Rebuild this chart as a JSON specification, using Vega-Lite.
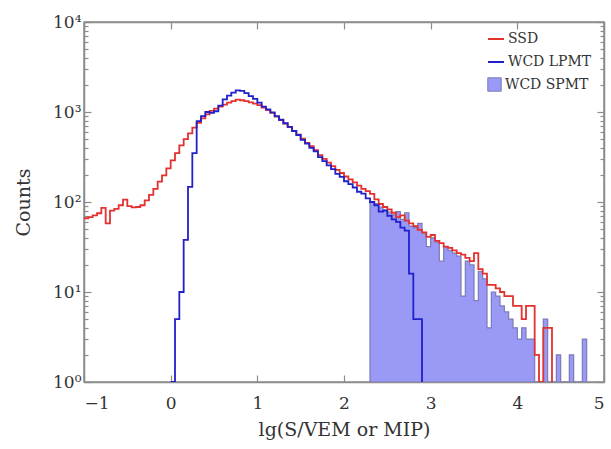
{
  "$schema": "https://vega.github.io/schema/vega-lite/v6.json",
  "width": 520,
  "height": 360,
  "autosize": "none",
  "padding": {"left": 84, "top": 22, "right": 7, "bottom": 67},
  "background": "white",
  "config": {
    "view": {"stroke": "#8c8c8c", "strokeWidth": 1.5},
    "font": "DejaVu Serif",
    "axis": {
      "grid": false,
      "domainColor": "#8c8c8c",
      "domainWidth": 1.5,
      "tickColor": "#8c8c8c",
      "tickWidth": 1.2,
      "labelColor": "#333333",
      "labelFont": "DejaVu Serif",
      "labelFontSize": 17,
      "titleFont": "DejaVu Serif",
      "titleFontSize": 19,
      "titleFontWeight": "normal",
      "titleColor": "#333333"
    },
    "legend": {
      "labelFont": "DejaVu Serif",
      "labelFontSize": 14,
      "labelColor": "#333333",
      "rowPadding": 7,
      "padding": 0,
      "labelOffset": 3
    }
  },
  "data": {
    "values": [
      {"series": "SSD", "edge": -1.00, "count": 66},
      {"series": "SSD", "edge": -0.95, "count": 68},
      {"series": "SSD", "edge": -0.90, "count": 71},
      {"series": "SSD", "edge": -0.85, "count": 75},
      {"series": "SSD", "edge": -0.80, "count": 86},
      {"series": "SSD", "edge": -0.75, "count": 58},
      {"series": "SSD", "edge": -0.70, "count": 80},
      {"series": "SSD", "edge": -0.65, "count": 84},
      {"series": "SSD", "edge": -0.60, "count": 92},
      {"series": "SSD", "edge": -0.55, "count": 106},
      {"series": "SSD", "edge": -0.50, "count": 90},
      {"series": "SSD", "edge": -0.45, "count": 87},
      {"series": "SSD", "edge": -0.40, "count": 88},
      {"series": "SSD", "edge": -0.35, "count": 92},
      {"series": "SSD", "edge": -0.30, "count": 104},
      {"series": "SSD", "edge": -0.25, "count": 120},
      {"series": "SSD", "edge": -0.20, "count": 140},
      {"series": "SSD", "edge": -0.15, "count": 168},
      {"series": "SSD", "edge": -0.10, "count": 198},
      {"series": "SSD", "edge": -0.05, "count": 236},
      {"series": "SSD", "edge": 0.00, "count": 290},
      {"series": "SSD", "edge": 0.05, "count": 350},
      {"series": "SSD", "edge": 0.10, "count": 425},
      {"series": "SSD", "edge": 0.15, "count": 500},
      {"series": "SSD", "edge": 0.20, "count": 580},
      {"series": "SSD", "edge": 0.25, "count": 670},
      {"series": "SSD", "edge": 0.30, "count": 760},
      {"series": "SSD", "edge": 0.35, "count": 850},
      {"series": "SSD", "edge": 0.40, "count": 940},
      {"series": "SSD", "edge": 0.45, "count": 1030},
      {"series": "SSD", "edge": 0.50, "count": 1090},
      {"series": "SSD", "edge": 0.55, "count": 1150},
      {"series": "SSD", "edge": 0.60, "count": 1210},
      {"series": "SSD", "edge": 0.65, "count": 1270},
      {"series": "SSD", "edge": 0.70, "count": 1320},
      {"series": "SSD", "edge": 0.75, "count": 1370},
      {"series": "SSD", "edge": 0.80, "count": 1350},
      {"series": "SSD", "edge": 0.85, "count": 1320},
      {"series": "SSD", "edge": 0.90, "count": 1280},
      {"series": "SSD", "edge": 0.95, "count": 1240},
      {"series": "SSD", "edge": 1.00, "count": 1190},
      {"series": "SSD", "edge": 1.05, "count": 1120},
      {"series": "SSD", "edge": 1.10, "count": 1050},
      {"series": "SSD", "edge": 1.15, "count": 980},
      {"series": "SSD", "edge": 1.20, "count": 890},
      {"series": "SSD", "edge": 1.25, "count": 815},
      {"series": "SSD", "edge": 1.30, "count": 745},
      {"series": "SSD", "edge": 1.35, "count": 680},
      {"series": "SSD", "edge": 1.40, "count": 615},
      {"series": "SSD", "edge": 1.45, "count": 560},
      {"series": "SSD", "edge": 1.50, "count": 505},
      {"series": "SSD", "edge": 1.55, "count": 455},
      {"series": "SSD", "edge": 1.60, "count": 418},
      {"series": "SSD", "edge": 1.65, "count": 378},
      {"series": "SSD", "edge": 1.70, "count": 332},
      {"series": "SSD", "edge": 1.75, "count": 302},
      {"series": "SSD", "edge": 1.80, "count": 274},
      {"series": "SSD", "edge": 1.85, "count": 250},
      {"series": "SSD", "edge": 1.90, "count": 228},
      {"series": "SSD", "edge": 1.95, "count": 210},
      {"series": "SSD", "edge": 2.00, "count": 192},
      {"series": "SSD", "edge": 2.05, "count": 178},
      {"series": "SSD", "edge": 2.10, "count": 165},
      {"series": "SSD", "edge": 2.15, "count": 152},
      {"series": "SSD", "edge": 2.20, "count": 140},
      {"series": "SSD", "edge": 2.25, "count": 132},
      {"series": "SSD", "edge": 2.30, "count": 123},
      {"series": "SSD", "edge": 2.35, "count": 107},
      {"series": "SSD", "edge": 2.40, "count": 95},
      {"series": "SSD", "edge": 2.45, "count": 88},
      {"series": "SSD", "edge": 2.50, "count": 83},
      {"series": "SSD", "edge": 2.55, "count": 76},
      {"series": "SSD", "edge": 2.60, "count": 68},
      {"series": "SSD", "edge": 2.65, "count": 71},
      {"series": "SSD", "edge": 2.70, "count": 62},
      {"series": "SSD", "edge": 2.75, "count": 58},
      {"series": "SSD", "edge": 2.80, "count": 54},
      {"series": "SSD", "edge": 2.85, "count": 49},
      {"series": "SSD", "edge": 2.90, "count": 46},
      {"series": "SSD", "edge": 2.95, "count": 41},
      {"series": "SSD", "edge": 3.00, "count": 43},
      {"series": "SSD", "edge": 3.05, "count": 37},
      {"series": "SSD", "edge": 3.10, "count": 35},
      {"series": "SSD", "edge": 3.15, "count": 32},
      {"series": "SSD", "edge": 3.20, "count": 31},
      {"series": "SSD", "edge": 3.25, "count": 29},
      {"series": "SSD", "edge": 3.30, "count": 27},
      {"series": "SSD", "edge": 3.35, "count": 26},
      {"series": "SSD", "edge": 3.40, "count": 24},
      {"series": "SSD", "edge": 3.45, "count": 22},
      {"series": "SSD", "edge": 3.50, "count": 27},
      {"series": "SSD", "edge": 3.55, "count": 18},
      {"series": "SSD", "edge": 3.60, "count": 16},
      {"series": "SSD", "edge": 3.65, "count": 12},
      {"series": "SSD", "edge": 3.70, "count": 12},
      {"series": "SSD", "edge": 3.75, "count": 11},
      {"series": "SSD", "edge": 3.80, "count": 10},
      {"series": "SSD", "edge": 3.85, "count": 9},
      {"series": "SSD", "edge": 3.90, "count": 9},
      {"series": "SSD", "edge": 3.95, "count": 7},
      {"series": "SSD", "edge": 4.00, "count": 7},
      {"series": "SSD", "edge": 4.05, "count": 5},
      {"series": "SSD", "edge": 4.10, "count": 7},
      {"series": "SSD", "edge": 4.15, "count": 7},
      {"series": "SSD", "edge": 4.20, "count": 2},
      {"series": "SSD", "edge": 4.25, "count": 0},
      {"series": "SSD", "edge": 4.30, "count": 4},
      {"series": "SSD", "edge": 4.35, "count": 4},
      {"series": "SSD", "edge": 4.40, "count": 0},

      {"series": "WCD LPMT", "edge": 0.00, "count": 0},
      {"series": "WCD LPMT", "edge": 0.05, "count": 5},
      {"series": "WCD LPMT", "edge": 0.10, "count": 10},
      {"series": "WCD LPMT", "edge": 0.15, "count": 38},
      {"series": "WCD LPMT", "edge": 0.20, "count": 147},
      {"series": "WCD LPMT", "edge": 0.25, "count": 350},
      {"series": "WCD LPMT", "edge": 0.30, "count": 790},
      {"series": "WCD LPMT", "edge": 0.35, "count": 900},
      {"series": "WCD LPMT", "edge": 0.40, "count": 1000},
      {"series": "WCD LPMT", "edge": 0.45, "count": 980},
      {"series": "WCD LPMT", "edge": 0.50, "count": 1020},
      {"series": "WCD LPMT", "edge": 0.55, "count": 1180},
      {"series": "WCD LPMT", "edge": 0.60, "count": 1380},
      {"series": "WCD LPMT", "edge": 0.65, "count": 1520},
      {"series": "WCD LPMT", "edge": 0.70, "count": 1640},
      {"series": "WCD LPMT", "edge": 0.75, "count": 1740},
      {"series": "WCD LPMT", "edge": 0.80, "count": 1720},
      {"series": "WCD LPMT", "edge": 0.85, "count": 1620},
      {"series": "WCD LPMT", "edge": 0.90, "count": 1500},
      {"series": "WCD LPMT", "edge": 0.95, "count": 1400},
      {"series": "WCD LPMT", "edge": 1.00, "count": 1270},
      {"series": "WCD LPMT", "edge": 1.05, "count": 1150},
      {"series": "WCD LPMT", "edge": 1.10, "count": 1070},
      {"series": "WCD LPMT", "edge": 1.15, "count": 990},
      {"series": "WCD LPMT", "edge": 1.20, "count": 900},
      {"series": "WCD LPMT", "edge": 1.25, "count": 820},
      {"series": "WCD LPMT", "edge": 1.30, "count": 750},
      {"series": "WCD LPMT", "edge": 1.35, "count": 685},
      {"series": "WCD LPMT", "edge": 1.40, "count": 615},
      {"series": "WCD LPMT", "edge": 1.45, "count": 555},
      {"series": "WCD LPMT", "edge": 1.50, "count": 490},
      {"series": "WCD LPMT", "edge": 1.55, "count": 445},
      {"series": "WCD LPMT", "edge": 1.60, "count": 400},
      {"series": "WCD LPMT", "edge": 1.65, "count": 365},
      {"series": "WCD LPMT", "edge": 1.70, "count": 315},
      {"series": "WCD LPMT", "edge": 1.75, "count": 285},
      {"series": "WCD LPMT", "edge": 1.80, "count": 255},
      {"series": "WCD LPMT", "edge": 1.85, "count": 232},
      {"series": "WCD LPMT", "edge": 1.90, "count": 205},
      {"series": "WCD LPMT", "edge": 1.95, "count": 190},
      {"series": "WCD LPMT", "edge": 2.00, "count": 170},
      {"series": "WCD LPMT", "edge": 2.05, "count": 158},
      {"series": "WCD LPMT", "edge": 2.10, "count": 145},
      {"series": "WCD LPMT", "edge": 2.15, "count": 130},
      {"series": "WCD LPMT", "edge": 2.20, "count": 124},
      {"series": "WCD LPMT", "edge": 2.25, "count": 110},
      {"series": "WCD LPMT", "edge": 2.30, "count": 100},
      {"series": "WCD LPMT", "edge": 2.35, "count": 92},
      {"series": "WCD LPMT", "edge": 2.40, "count": 78},
      {"series": "WCD LPMT", "edge": 2.45, "count": 80},
      {"series": "WCD LPMT", "edge": 2.50, "count": 70},
      {"series": "WCD LPMT", "edge": 2.55, "count": 64},
      {"series": "WCD LPMT", "edge": 2.60, "count": 60},
      {"series": "WCD LPMT", "edge": 2.65, "count": 52},
      {"series": "WCD LPMT", "edge": 2.70, "count": 48},
      {"series": "WCD LPMT", "edge": 2.75, "count": 16},
      {"series": "WCD LPMT", "edge": 2.80, "count": 5},
      {"series": "WCD LPMT", "edge": 2.85, "count": 5},
      {"series": "WCD LPMT", "edge": 2.90, "count": 0},

      {"series": "WCD SPMT", "edge": 2.30, "count": 100},
      {"series": "WCD SPMT", "edge": 2.35, "count": 96},
      {"series": "WCD SPMT", "edge": 2.40, "count": 88},
      {"series": "WCD SPMT", "edge": 2.45, "count": 82},
      {"series": "WCD SPMT", "edge": 2.50, "count": 77},
      {"series": "WCD SPMT", "edge": 2.55, "count": 72},
      {"series": "WCD SPMT", "edge": 2.60, "count": 78},
      {"series": "WCD SPMT", "edge": 2.65, "count": 64},
      {"series": "WCD SPMT", "edge": 2.70, "count": 76},
      {"series": "WCD SPMT", "edge": 2.75, "count": 54},
      {"series": "WCD SPMT", "edge": 2.80, "count": 52},
      {"series": "WCD SPMT", "edge": 2.85, "count": 58},
      {"series": "WCD SPMT", "edge": 2.90, "count": 45},
      {"series": "WCD SPMT", "edge": 2.95, "count": 32},
      {"series": "WCD SPMT", "edge": 3.00, "count": 40},
      {"series": "WCD SPMT", "edge": 3.05, "count": 36},
      {"series": "WCD SPMT", "edge": 3.10, "count": 22},
      {"series": "WCD SPMT", "edge": 3.15, "count": 32},
      {"series": "WCD SPMT", "edge": 3.20, "count": 29},
      {"series": "WCD SPMT", "edge": 3.25, "count": 27},
      {"series": "WCD SPMT", "edge": 3.30, "count": 25},
      {"series": "WCD SPMT", "edge": 3.35, "count": 9},
      {"series": "WCD SPMT", "edge": 3.40, "count": 22},
      {"series": "WCD SPMT", "edge": 3.45, "count": 20},
      {"series": "WCD SPMT", "edge": 3.50, "count": 8},
      {"series": "WCD SPMT", "edge": 3.55, "count": 17},
      {"series": "WCD SPMT", "edge": 3.60, "count": 14},
      {"series": "WCD SPMT", "edge": 3.65, "count": 4},
      {"series": "WCD SPMT", "edge": 3.70, "count": 10},
      {"series": "WCD SPMT", "edge": 3.75, "count": 9},
      {"series": "WCD SPMT", "edge": 3.80, "count": 7},
      {"series": "WCD SPMT", "edge": 3.85, "count": 6},
      {"series": "WCD SPMT", "edge": 3.90, "count": 5},
      {"series": "WCD SPMT", "edge": 3.95, "count": 4},
      {"series": "WCD SPMT", "edge": 4.00, "count": 3},
      {"series": "WCD SPMT", "edge": 4.05, "count": 4},
      {"series": "WCD SPMT", "edge": 4.10, "count": 3},
      {"series": "WCD SPMT", "edge": 4.15, "count": 3},
      {"series": "WCD SPMT", "edge": 4.20, "count": 0},
      {"series": "WCD SPMT", "edge": 4.25, "count": 0},
      {"series": "WCD SPMT", "edge": 4.30, "count": 5},
      {"series": "WCD SPMT", "edge": 4.35, "count": 0},
      {"series": "WCD SPMT", "edge": 4.40, "count": 0},
      {"series": "WCD SPMT", "edge": 4.45, "count": 2},
      {"series": "WCD SPMT", "edge": 4.50, "count": 0},
      {"series": "WCD SPMT", "edge": 4.55, "count": 0},
      {"series": "WCD SPMT", "edge": 4.60, "count": 2},
      {"series": "WCD SPMT", "edge": 4.65, "count": 0},
      {"series": "WCD SPMT", "edge": 4.70, "count": 0},
      {"series": "WCD SPMT", "edge": 4.75, "count": 3},
      {"series": "WCD SPMT", "edge": 4.80, "count": 0}
    ]
  },
  "layer": [
    {
      "transform": [{"filter": "datum.series == 'WCD SPMT'"}],
      "mark": {"type": "area", "interpolate": "step-after", "stroke": "#7b7bb8", "strokeWidth": 1.2, "invalid": "show", "clip": true},
      "encoding": {
        "x": {"field": "edge", "type": "quantitative", "scale": {"domain": [-1, 5], "nice": false, "zero": false},
              "axis": {"orient": "bottom", "values": [-1, 0, 1, 2, 3, 4, 5], "tickSize": -7, "labelPadding": 20, "labelExpr": "datum.value < 0 ? '−' + abs(datum.value) : datum.label", "title": "lg(S/VEM or MIP)", "titlePadding": 9}},
        "y": {"field": "count", "type": "quantitative", "scale": {"type": "log", "domain": [1, 10000], "nice": false, "clamp": true},
              "axis": {"orient": "left", "values": [1,2,3,4,5,6,7,8,9,10,20,30,40,50,60,70,80,90,100,200,300,400,500,600,700,800,900,1000,2000,3000,4000,5000,6000,7000,8000,9000,10000],
                       "tickSize": {"condition": {"test": "datum.value == 1 || datum.value == 10 || datum.value == 100 || datum.value == 1000 || datum.value == 10000", "value": -7}, "value": -4},
                       "labelPadding": 10,
                       "labelExpr": "datum.value == 1 ? '10⁰' : datum.value == 10 ? '10¹' : datum.value == 100 ? '10²' : datum.value == 1000 ? '10³' : datum.value == 10000 ? '10⁴' : ''",
                       "title": "Counts", "titlePadding": 19}},
        "y2": {"datum": 1},
        "fill": {"field": "series", "type": "nominal", "scale": {"domain": ["WCD SPMT"], "range": ["#9a9af6"]},
                 "legend": {"title": null, "orient": "none", "legendX": 403, "legendY": 55, "symbolType": "square", "symbolSize": 180, "symbolStrokeColor": "#7b7bb8", "symbolStrokeWidth": 1}}
      }
    },
    {
      "transform": [{"filter": "datum.series == 'SSD'"}],
      "mark": {"type": "line", "interpolate": "step-after", "strokeWidth": 1.8, "invalid": "show", "clip": true},
      "encoding": {
        "x": {"field": "edge", "type": "quantitative", "scale": {"domain": [-1, 5], "nice": false, "zero": false},
              "axis": {"orient": "top", "values": [-1, 0, 1, 2, 3, 4, 5], "tickSize": -7, "labels": false, "title": null}},
        "y": {"field": "count", "type": "quantitative", "scale": {"type": "log", "domain": [1, 10000], "nice": false, "clamp": true},
              "axis": {"orient": "right", "values": [1,2,3,4,5,6,7,8,9,10,20,30,40,50,60,70,80,90,100,200,300,400,500,600,700,800,900,1000,2000,3000,4000,5000,6000,7000,8000,9000,10000],
                       "tickSize": {"condition": {"test": "datum.value == 1 || datum.value == 10 || datum.value == 100 || datum.value == 1000 || datum.value == 10000", "value": -7}, "value": -4},
                       "labels": false, "title": null}},
        "stroke": {"field": "series", "type": "nominal", "scale": {"domain": ["SSD", "WCD LPMT"], "range": ["#e3312f", "#2121c9"]},
                   "legend": {"title": null, "orient": "none", "legendX": 403, "legendY": 8, "symbolType": "stroke", "symbolSize": 256, "symbolStrokeWidth": 2}}
      }
    },
    {
      "transform": [{"filter": "datum.series == 'WCD LPMT'"}],
      "mark": {"type": "line", "interpolate": "step-after", "strokeWidth": 1.8, "invalid": "show", "clip": true},
      "encoding": {
        "x": {"field": "edge", "type": "quantitative", "scale": {"domain": [-1, 5], "nice": false, "zero": false}, "axis": null},
        "y": {"field": "count", "type": "quantitative", "scale": {"type": "log", "domain": [1, 10000], "nice": false, "clamp": true}, "axis": null},
        "stroke": {"field": "series", "type": "nominal", "scale": {"domain": ["SSD", "WCD LPMT"], "range": ["#e3312f", "#2121c9"]},
                   "legend": {"title": null, "orient": "none", "legendX": 403, "legendY": 8, "symbolType": "stroke", "symbolSize": 256, "symbolStrokeWidth": 2}}
      }
    }
  ],
  "resolve": {"axis": {"x": "independent", "y": "independent"}}
}
